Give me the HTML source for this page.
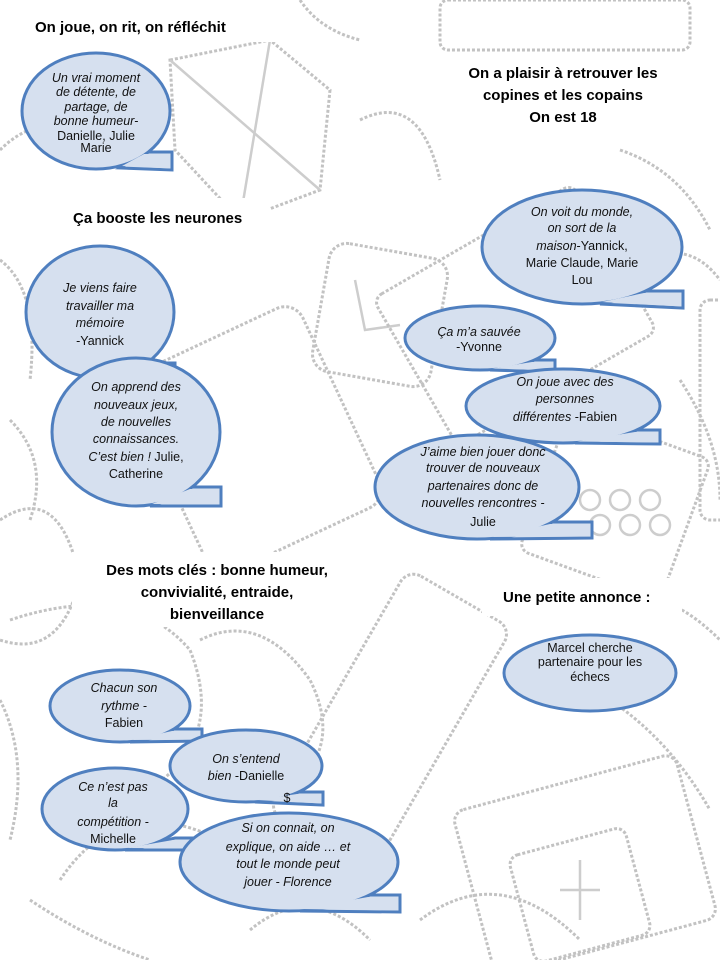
<!DOCTYPE html>
<html><head><meta charset="utf-8"><style>
html,body{margin:0;padding:0;background:#fff;}
svg{display:block;}
text{font-family:"Liberation Sans",sans-serif;}
.h{font-weight:bold;font-size:15px;fill:#000;}
.b{font-size:12.5px;fill:#111;text-anchor:middle;}
.i{font-style:italic;}
.bg{fill:none;stroke:#c2c2c2;stroke-width:3;stroke-dasharray:3 2;}
.bg2{fill:none;stroke:#cdcdcd;stroke-width:2.5;}
</style></head><body>
<svg width="720" height="960" viewBox="0 0 720 960" xmlns="http://www.w3.org/2000/svg">
<g>
<polygon class="bg" points="170,60 270,40 330,90 320,190 240,220 175,150"/>
<line class="bg2" x1="170" y1="60" x2="320" y2="190"/><line class="bg2" x1="270" y1="40" x2="240" y2="220"/>
<rect class="bg" x="320" y="250" width="120" height="130" rx="18" transform="rotate(10 380 315)"/>
<path class="bg2" d="M355 280 l10 50 l35 -5"/>
<rect class="bg" x="160" y="330" width="190" height="220" rx="20" transform="rotate(-25 255 440)"/>
<rect class="bg" x="400" y="230" width="230" height="170" rx="10" transform="rotate(-30 515 315)"/>
<rect class="bg" x="540" y="430" width="150" height="150" rx="10" transform="rotate(20 615 505)"/>
<circle class="bg2" cx="590" cy="500" r="10"/><circle class="bg2" cx="620" cy="500" r="10"/><circle class="bg2" cx="650" cy="500" r="10"/>
<circle class="bg2" cx="600" cy="525" r="10"/><circle class="bg2" cx="630" cy="525" r="10"/><circle class="bg2" cx="660" cy="525" r="10"/>
<rect class="bg" x="330" y="580" width="120" height="280" rx="15" transform="rotate(30 390 720)"/>
<rect class="bg" x="470" y="780" width="230" height="170" rx="12" transform="rotate(-15 585 865)"/>
<rect class="bg" x="520" y="840" width="120" height="110" rx="10" transform="rotate(-15 580 895)"/>
<path class="bg2" d="M580 860 v60 M560 890 h40"/>
<path class="bg" d="M0 520 q60 -40 80 60 q-20 80 -80 60"/>
<path class="bg" d="M10 620 q120 -40 180 30 q40 100 -60 150"/>
<path class="bg" d="M60 880 q60 -90 160 -40"/>
<path class="bg" d="M420 920 q80 -60 160 20"/>
<rect class="bg" x="440" y="0" width="250" height="50" rx="8"/>
<path class="bg" d="M620 150 q60 20 90 80 M650 260 q40 -20 70 20"/>
<path class="bg" d="M0 260 q40 30 30 120 M10 420 q40 40 20 100"/>
<path class="bg" d="M600 600 q60 -20 120 40 M610 700 q60 40 100 110"/>
<path class="bg" d="M200 640 q60 -30 110 40 q30 60 -10 100"/>
<rect class="bg" x="700" y="300" width="40" height="220" rx="10"/>
<path class="bg" d="M0 150 q40 -40 100 -20 M300 0 q20 30 60 40 M360 120 q60 -30 80 60"/>
<path class="bg" d="M0 700 q30 60 10 140 M30 900 q60 40 120 60"/>
<path class="bg" d="M250 930 q60 -50 120 10 M680 380 q40 60 40 120"/>
</g>
<rect x="20" y="8" width="255" height="34" fill="#fff"/>
<rect x="445" y="55" width="245" height="85" fill="#fff"/>
<rect x="55" y="198" width="215" height="38" fill="#fff"/>
<rect x="72" y="552" width="293" height="75" fill="#fff"/>
<rect x="482" y="578" width="200" height="38" fill="#fff"/>
<text class="h" x="35" y="32">On joue, on rit, on réfléchit</text>
<text class="h" x="563" y="78" text-anchor="middle">On a plaisir à retrouver les</text>
<text class="h" x="563" y="100" text-anchor="middle">copines et les copains</text>
<text class="h" x="563" y="122" text-anchor="middle">On est 18</text>
<text class="h" x="73" y="223">Ça booste les neurones</text>
<text class="h" x="217" y="575" text-anchor="middle">Des mots clés : bonne humeur,</text>
<text class="h" x="217" y="597" text-anchor="middle">convivialité, entraide,</text>
<text class="h" x="217" y="619" text-anchor="middle">bienveillance</text>
<text class="h" x="503" y="602">Une  petite annonce :</text>

<g fill="#d6e0ef" stroke="#4f7fbf" stroke-width="3">
<polygon points="146,152 172,152 172,170 120,168"/>
<ellipse cx="96" cy="111" rx="74" ry="58"/>
<polygon points="144,154 170.5,154 170.5,168.5 122,166" stroke="none"/>
</g>
<text class="b i" x="96" y="82" font-size="9.5">Un vrai moment</text>
<text class="b i" x="96" y="96" font-size="9.5">de détente, de</text>
<text class="b i" x="96" y="111" font-size="9.5">partage, de</text>
<text class="b i" x="96" y="125" font-size="9.5">bonne humeur-</text>
<text class="b" x="96" y="140" font-size="9.5">Danielle, Julie</text>
<text class="b" x="96" y="152" font-size="9.5">Marie</text>

<g fill="#d6e0ef" stroke="#4f7fbf" stroke-width="3">
<polygon points="147,363 175,363 175,378 110,378"/>
<ellipse cx="100" cy="312" rx="74" ry="66"/>
<polygon points="145,365 173.5,365 173.5,376.5 112,376" stroke="none"/>
</g>
<text class="b i" x="100" y="292">Je viens faire</text>
<text class="b i" x="100" y="310">travailler ma</text>
<text class="b i" x="100" y="327">mémoire</text>
<text class="b" x="100" y="345">-Yannick</text>

<g fill="#d6e0ef" stroke="#4f7fbf" stroke-width="3">
<polygon points="192,487 221,487 221,506 150,506"/>
<ellipse cx="136" cy="432" rx="84" ry="74"/>
<polygon points="190,489 219.5,489 219.5,504.5 152,504" stroke="none"/>
</g>
<text class="b i" x="136" y="391">On apprend des</text>
<text class="b i" x="136" y="409">nouveaux jeux,</text>
<text class="b i" x="136" y="426">de nouvelles</text>
<text class="b i" x="136" y="443">connaissances.</text>
<text class="b" x="136" y="461"><tspan font-style="italic">C’est bien !</tspan> Julie,</text>
<text class="b" x="136" y="478">Catherine</text>

<g fill="#d6e0ef" stroke="#4f7fbf" stroke-width="3">
<polygon points="646,291 683,291 683,308 600,304"/>
<ellipse cx="582" cy="247" rx="100" ry="57"/>
<polygon points="644,293 681.5,293 681.5,306.5 602,302" stroke="none"/>
</g>
<text class="b i" x="582" y="216">On voit du monde,</text>
<text class="b i" x="582" y="232">on sort de la</text>
<text class="b" x="582" y="250"><tspan font-style="italic">maison</tspan>-Yannick,</text>
<text class="b" x="582" y="267">Marie Claude, Marie</text>
<text class="b" x="582" y="284">Lou</text>

<g fill="#d6e0ef" stroke="#4f7fbf" stroke-width="3">
<polygon points="534,360 555,360 555,372 490,370"/>
<ellipse cx="480" cy="338" rx="75" ry="32"/>
<polygon points="532,362 553.5,362 553.5,370.5 492,368.5" stroke="none"/>
</g>
<text class="b i" x="479" y="336">Ça m’a sauvée</text>
<text class="b" x="479" y="351">-Yvonne</text>

<g fill="#d6e0ef" stroke="#4f7fbf" stroke-width="3">
<polygon points="637,430 660,430 660,444 575,443"/>
<ellipse cx="563" cy="406" rx="97" ry="37"/>
<polygon points="635,432 658.5,432 658.5,442.5 577,441.5" stroke="none"/>
</g>
<text class="b i" x="565" y="386">On joue avec des</text>
<text class="b i" x="565" y="403">personnes</text>
<text class="b" x="565" y="421"><tspan font-style="italic">différentes</tspan> -Fabien</text>

<g fill="#d6e0ef" stroke="#4f7fbf" stroke-width="3">
<polygon points="552,522 592,522 592,538 490,539"/>
<ellipse cx="477" cy="487" rx="102" ry="52"/>
<polygon points="550,524 590.5,524 590.5,536.5 492,537" stroke="none"/>
</g>
<text class="b i" x="483" y="456">J’aime bien jouer donc</text>
<text class="b i" x="483" y="472">trouver de nouveaux</text>
<text class="b i" x="483" y="490">partenaires donc de</text>
<text class="b i" x="483" y="507">nouvelles rencontres -</text>
<text class="b" x="483" y="526">Julie</text>

<ellipse cx="590" cy="673" rx="86" ry="38" fill="#d6e0ef" stroke="#4f7fbf" stroke-width="3"/>
<text class="b" x="590" y="652" font-size="11">Marcel cherche</text>
<text class="b" x="590" y="666" font-size="11">partenaire pour les</text>
<text class="b" x="590" y="681" font-size="11">échecs</text>

<g fill="#d6e0ef" stroke="#4f7fbf" stroke-width="3">
<polygon points="174,729 202,729 202,741 130,742"/>
<ellipse cx="120" cy="706" rx="70" ry="36"/>
<polygon points="172,731 200.5,731 200.5,739.5 132,740" stroke="none"/>
</g>
<text class="b i" x="124" y="692">Chacun son</text>
<text class="b i" x="124" y="710">rythme -</text>
<text class="b" x="124" y="727">Fabien</text>

<g fill="#d6e0ef" stroke="#4f7fbf" stroke-width="3">
<polygon points="299,792 323,792 323,805 255,802"/>
<ellipse cx="246" cy="766" rx="76" ry="36"/>
<polygon points="297,794 321.5,794 321.5,803.5 257,800" stroke="none"/>
</g>
<text class="b i" x="246" y="763">On s’entend</text>
<text class="b" x="246" y="780"><tspan font-style="italic">bien</tspan> -Danielle</text>
<text class="b" x="287" y="802" font-size="10">$</text>

<g fill="#d6e0ef" stroke="#4f7fbf" stroke-width="3">
<polygon points="175,838 200,838 200,850 125,850"/>
<ellipse cx="115" cy="809" rx="73" ry="41"/>
<polygon points="173,840 198.5,840 198.5,848.5 127,848" stroke="none"/>
</g>
<text class="b i" x="113" y="791">Ce n’est pas</text>
<text class="b i" x="113" y="807">la</text>
<text class="b i" x="113" y="826">compétition -</text>
<text class="b" x="113" y="843">Michelle</text>

<g fill="#d6e0ef" stroke="#4f7fbf" stroke-width="3">
<polygon points="370,895 400,895 400,912 300,911"/>
<ellipse cx="289" cy="862" rx="109" ry="49"/>
<polygon points="368,897 398.5,897 398.5,910.5 302,909" stroke="none"/>
</g>
<text class="b i" x="288" y="832">Si on connait, on</text>
<text class="b i" x="288" y="851">explique, on aide … et</text>
<text class="b i" x="288" y="868">tout le monde peut</text>
<text class="b i" x="288" y="886">jouer  - Florence</text>
</svg>
</body></html>
